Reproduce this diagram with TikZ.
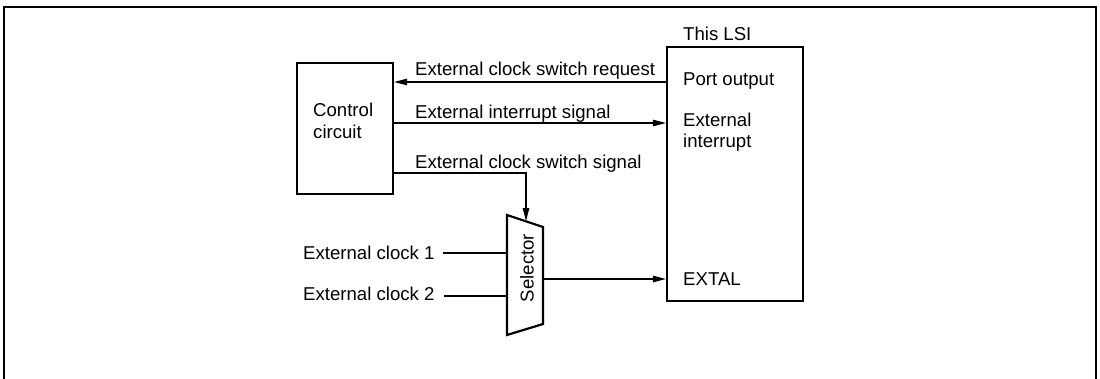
\documentclass[tikz,border=0pt]{standalone}
\usepackage{fontspec}
\setmainfont{Liberation Sans}
\usetikzlibrary{arrows.meta}
\begin{document}
\begin{tikzpicture}[x=1pt,y=-1pt,
  box/.style={draw,line width=2.2pt,inner sep=0pt},
  wire/.style={line width=1.1pt},
  arr/.style={wire,-{Triangle[length=13pt,width=6.5pt]}},
  lbl/.style={anchor=base west,inner sep=0pt,font=\fontsize{18.6}{22}\selectfont},
  ]
\useasboundingbox (0,0) rectangle (1100,378);
% outer frame
\draw[line width=2pt] (3.5,390) -- (3.5,6.5) -- (1096,6.5) -- (1096,390);
% boxes
\node[box,minimum width=96pt,minimum height=131pt] (ctrl) at (345,128.5) {};
\node[box,minimum width=136pt,minimum height=254pt] (lsi) at (735,174) {};
% selector trapezoid
\coordinate (s1) at (507,215);
\coordinate (s2) at (543,227);
\coordinate (s3) at (543,324);
\coordinate (s4) at (507,335);
\draw[line width=2.2pt,line join=miter] (s1) -- (s2) -- (s3) -- (s4) -- cycle;
\node[inner sep=0pt,rotate=90,font=\fontsize{18.6}{22}\selectfont] (sel) at (527,268) {Selector};
% texts
\node[lbl] (lsit) at (683,40) {This LSI};
\node[lbl] (port) at (683,85) {Port output};
\node[lbl] (ext1) at (683,126) {External};
\node[lbl] (ext2) at (683,147) {interrupt};
\node[lbl] (extal) at (683,285) {EXTAL};
\node[lbl] (c1) at (313,116.5) {Control};
\node[lbl] (c2) at (313,138) {circuit};
\node[lbl] (l1) at (415,75) {External clock switch request};
\node[lbl] (l2) at (415,118) {External interrupt signal};
\node[lbl] (l3) at (415,168) {External clock switch signal};
\node[lbl] (k1) at (303,259.5) {External clock 1};
\node[lbl] (k2) at (303,300) {External clock 2};
% connectors
\coordinate (rq) at (lsi.west |- 0,82);
\draw[arr] (rq) -- (ctrl.east |- rq);
\coordinate (ir) at (ctrl.east |- 0,123);
\draw[arr] (ir) -- (lsi.west |- ir);
\coordinate (sw) at (ctrl.east |- 0,173);
\coordinate (swc) at (526,173);
\coordinate (swe) at (526,221);
\draw[arr] (sw) -- (swc) -- (swe);
\coordinate (k1e) at (443,253);
\coordinate (k2e) at (444,296);
\draw[wire] (k1e) -- (k1e -| s1);
\draw[wire] (k2e) -- (k2e -| s1);
\coordinate (so) at (543,279);
\draw[arr] (so) -- (lsi.west |- so);
\end{tikzpicture}
\end{document}
